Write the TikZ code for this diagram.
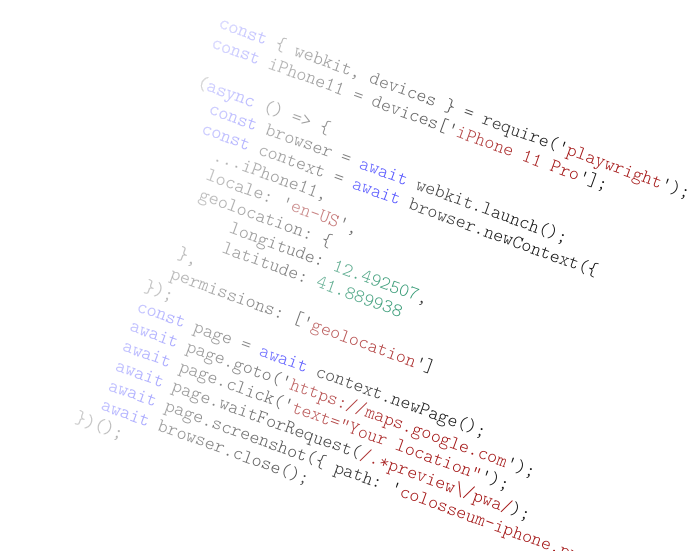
\documentclass[tikz,border=0pt]{standalone}
\usepackage{fontspec}
\newfontfamily\codefont{lmmonolt10-regular.otf}[Ligatures=TeXOff]
\definecolor{kwc}{HTML}{0000FF}
\definecolor{strc}{HTML}{A31515}
\definecolor{numc}{HTML}{098658}
\definecolor{txtc}{HTML}{111111}
\newcommand\ckw[1]{\textcolor{kwc}{#1}}
\newcommand\cstr[1]{\textcolor{strc}{#1}}
\newcommand\cnum[1]{\textcolor{numc}{#1}}
\begin{document}
\begin{tikzpicture}[x=1pt,y=1pt,
  codeline/.style={anchor=base west, inner sep=0pt, outer sep=0pt, text=txtc,
    font=\codefont\fontsize{19.05}{21}\selectfont\frenchspacing},
  fadestrip/.style={white, opacity=0.03}]
\useasboundingbox (0,0) rectangle (700,550);
\clip (0,0) rectangle (700,550);
\def\L{21}
\begin{scope}[shift={(218,522)}, rotate=-20, transform shape]
\node[codeline] (l1)  at (0,0)        {\ckw{const} \{ webkit, devices \} = require('\cstr{playwright}');};
\node[codeline] (l2)  at (0,-1*\L)    {\ckw{const} iPhone11 = devices['\cstr{iPhone 11 Pro}'];};
\node[codeline] (l4)  at (0,-3*\L)    {(\ckw{async} () => \{};
\node[codeline] (l5)  at (20,-4*\L)   {\ckw{const} browser = \ckw{await} webkit.launch();};
\node[codeline] (l6)  at (20,-5*\L)   {\ckw{const} context = \ckw{await} browser.newContext(\{};
\node[codeline] (l7)  at (40,-6*\L)   {...iPhone11,};
\node[codeline] (l8)  at (40,-7*\L)   {locale: '\cstr{en-US}',};
\node[codeline] (l9)  at (40,-8*\L)   {geolocation: \{};
\node[codeline] (l10) at (80,-9*\L)   {longitude: \cnum{12.492507},};
\node[codeline] (l11) at (80,-10*\L)  {latitude: \cnum{41.889938}};
\node[codeline] (l12) at (40,-11*\L)  {\},};
\node[codeline] (l13) at (40,-12*\L)  {permissions: ['\cstr{geolocation}']};
\node[codeline] (l14) at (20,-13*\L)  {\});};
\node[codeline] (l15) at (20,-14*\L)  {\ckw{const} page = \ckw{await} context.newPage();};
\node[codeline] (l16) at (20,-15*\L)  {\ckw{await} page.goto('\cstr{https://maps.google.com}');};
\node[codeline] (l17) at (20,-16*\L)  {\ckw{await} page.click('\cstr{text="Your location"}');};
\node[codeline] (l18) at (20,-17*\L)  {\ckw{await} page.waitForRequest(\cstr{/.*preview\textbackslash/pwa/});};
\node[codeline] (l19) at (20,-18*\L)  {\ckw{await} page.screenshot(\{ path: '\cstr{colosseum-iphone.png}' \});};
\node[codeline] (l20) at (20,-19*\L)  {\ckw{await} browser.close();};
\node[codeline] (l21) at (0,-20*\L)   {\})();};
% horizontal fade (white overlay, stacked)
\foreach \k in {1,...,72}{
  \pgfmathsetmacro\xk{360*(1-(1-0.97^\k)/0.88)}
  \fill[fadestrip, xslant=0.07] (-60,30) rectangle (\xk,-450);
}
\end{scope}
\end{tikzpicture}
\end{document}
